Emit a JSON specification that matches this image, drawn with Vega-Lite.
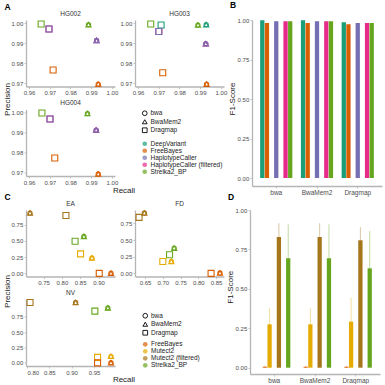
{
"$schema": "https://vega.github.io/schema/vega-lite/v6.json",
"padding": {"left": 3, "top": 1, "right": 2, "bottom": 0},
"config": {
  "font": "Liberation Sans",
  "view": {"stroke": null},
  "axis": {"domainColor": "#b5b5b5", "domainWidth": 1.3, "tickColor": "#b5b5b5", "tickSize": 2, "tickWidth": 0.8, "labelFontSize": 6, "labelColor": "#4d4d4d", "labelPadding": 1.2, "titleFontSize": 8, "titleFontWeight": "normal", "titleColor": "#1a1a1a", "grid": false},
  "title": {"fontSize": 6.5, "fontWeight": "normal", "color": "#333333", "offset": 1, "anchor": "middle"},
  "legend": {"padding": 0, "labelFontSize": 6.5, "labelColor": "#222222", "rowPadding": -0.5, "labelOffset": 2.5, "symbolStrokeWidth": 0.9, "symbolSize": 22, "titlePadding": 0}
},
"datasets": {
  "germ": [
    {"sample": "HG002", "aligner": "bwa", "caller": "Strelka2_BP", "recall": 0.9887, "precision": 0.9992},
    {"sample": "HG002", "aligner": "bwa", "caller": "HaplotypeCaller (filtered)", "recall": 0.9926, "precision": 0.9914},
    {"sample": "HG002", "aligner": "bwa", "caller": "HaplotypeCaller", "recall": 0.9926, "precision": 0.9914},
    {"sample": "HG002", "aligner": "bwa", "caller": "FreeBayes", "recall": 0.9934, "precision": 0.9697},
    {"sample": "HG002", "aligner": "BwaMem2", "caller": "Strelka2_BP", "recall": 0.9887, "precision": 0.9992},
    {"sample": "HG002", "aligner": "BwaMem2", "caller": "HaplotypeCaller (filtered)", "recall": 0.9926, "precision": 0.9914},
    {"sample": "HG002", "aligner": "BwaMem2", "caller": "HaplotypeCaller", "recall": 0.9926, "precision": 0.9914},
    {"sample": "HG002", "aligner": "BwaMem2", "caller": "FreeBayes", "recall": 0.9934, "precision": 0.9697},
    {"sample": "HG002", "aligner": "Dragmap", "caller": "Strelka2_BP", "recall": 0.9658, "precision": 0.9995},
    {"sample": "HG002", "aligner": "Dragmap", "caller": "HaplotypeCaller (filtered)", "recall": 0.9696, "precision": 0.997},
    {"sample": "HG002", "aligner": "Dragmap", "caller": "HaplotypeCaller", "recall": 0.9696, "precision": 0.997},
    {"sample": "HG002", "aligner": "Dragmap", "caller": "FreeBayes", "recall": 0.9716, "precision": 0.9767},
    {"sample": "HG003", "aligner": "bwa", "caller": "DeepVariant", "recall": 0.9929, "precision": 0.9992},
    {"sample": "HG003", "aligner": "bwa", "caller": "Strelka2_BP", "recall": 0.9889, "precision": 0.999},
    {"sample": "HG003", "aligner": "bwa", "caller": "HaplotypeCaller (filtered)", "recall": 0.9927, "precision": 0.9897},
    {"sample": "HG003", "aligner": "bwa", "caller": "HaplotypeCaller", "recall": 0.9927, "precision": 0.9897},
    {"sample": "HG003", "aligner": "bwa", "caller": "FreeBayes", "recall": 0.9931, "precision": 0.9697},
    {"sample": "HG003", "aligner": "BwaMem2", "caller": "DeepVariant", "recall": 0.9929, "precision": 0.9992},
    {"sample": "HG003", "aligner": "BwaMem2", "caller": "Strelka2_BP", "recall": 0.9889, "precision": 0.999},
    {"sample": "HG003", "aligner": "BwaMem2", "caller": "HaplotypeCaller (filtered)", "recall": 0.9927, "precision": 0.9897},
    {"sample": "HG003", "aligner": "BwaMem2", "caller": "HaplotypeCaller", "recall": 0.9927, "precision": 0.9897},
    {"sample": "HG003", "aligner": "BwaMem2", "caller": "FreeBayes", "recall": 0.9931, "precision": 0.9697},
    {"sample": "HG003", "aligner": "Dragmap", "caller": "DeepVariant", "recall": 0.9711, "precision": 0.999},
    {"sample": "HG003", "aligner": "Dragmap", "caller": "Strelka2_BP", "recall": 0.9661, "precision": 0.9995},
    {"sample": "HG003", "aligner": "Dragmap", "caller": "HaplotypeCaller (filtered)", "recall": 0.97, "precision": 0.9958},
    {"sample": "HG003", "aligner": "Dragmap", "caller": "HaplotypeCaller", "recall": 0.97, "precision": 0.9958},
    {"sample": "HG003", "aligner": "Dragmap", "caller": "FreeBayes", "recall": 0.9719, "precision": 0.9753},
    {"sample": "HG004", "aligner": "bwa", "caller": "Strelka2_BP", "recall": 0.9882, "precision": 0.9995},
    {"sample": "HG004", "aligner": "bwa", "caller": "HaplotypeCaller (filtered)", "recall": 0.9924, "precision": 0.9913},
    {"sample": "HG004", "aligner": "bwa", "caller": "HaplotypeCaller", "recall": 0.9924, "precision": 0.9913},
    {"sample": "HG004", "aligner": "bwa", "caller": "FreeBayes", "recall": 0.9934, "precision": 0.9695},
    {"sample": "HG004", "aligner": "BwaMem2", "caller": "Strelka2_BP", "recall": 0.9882, "precision": 0.9995},
    {"sample": "HG004", "aligner": "BwaMem2", "caller": "HaplotypeCaller (filtered)", "recall": 0.9924, "precision": 0.9913},
    {"sample": "HG004", "aligner": "BwaMem2", "caller": "HaplotypeCaller", "recall": 0.9924, "precision": 0.9913},
    {"sample": "HG004", "aligner": "BwaMem2", "caller": "FreeBayes", "recall": 0.9934, "precision": 0.9695},
    {"sample": "HG004", "aligner": "Dragmap", "caller": "Strelka2_BP", "recall": 0.9662, "precision": 0.9998},
    {"sample": "HG004", "aligner": "Dragmap", "caller": "HaplotypeCaller (filtered)", "recall": 0.9701, "precision": 0.9968},
    {"sample": "HG004", "aligner": "Dragmap", "caller": "HaplotypeCaller", "recall": 0.9701, "precision": 0.9968},
    {"sample": "HG004", "aligner": "Dragmap", "caller": "FreeBayes", "recall": 0.9724, "precision": 0.9774}
  ],
  "som": [
    {"sample": "EA", "aligner": "bwa", "caller": "Mutect2 (filtered)", "recall": 0.713, "precision": 0.93},
    {"sample": "EA", "aligner": "bwa", "caller": "Strelka2_BP", "recall": 0.86, "precision": 0.571},
    {"sample": "EA", "aligner": "bwa", "caller": "Mutect2", "recall": 0.882, "precision": 0.24},
    {"sample": "EA", "aligner": "bwa", "caller": "FreeBayes", "recall": 0.934, "precision": 0.005},
    {"sample": "EA", "aligner": "BwaMem2", "caller": "Mutect2 (filtered)", "recall": 0.713, "precision": 0.93},
    {"sample": "EA", "aligner": "BwaMem2", "caller": "Strelka2_BP", "recall": 0.86, "precision": 0.571},
    {"sample": "EA", "aligner": "BwaMem2", "caller": "Mutect2", "recall": 0.882, "precision": 0.24},
    {"sample": "EA", "aligner": "BwaMem2", "caller": "FreeBayes", "recall": 0.934, "precision": 0.005},
    {"sample": "EA", "aligner": "Dragmap", "caller": "Mutect2 (filtered)", "recall": 0.811, "precision": 0.893},
    {"sample": "EA", "aligner": "Dragmap", "caller": "Strelka2_BP", "recall": 0.836, "precision": 0.495},
    {"sample": "EA", "aligner": "Dragmap", "caller": "Mutect2", "recall": 0.851, "precision": 0.302},
    {"sample": "EA", "aligner": "Dragmap", "caller": "FreeBayes", "recall": 0.902, "precision": 0.002},
    {"sample": "FD", "aligner": "bwa", "caller": "Mutect2 (filtered)", "recall": 0.648, "precision": 0.905},
    {"sample": "FD", "aligner": "bwa", "caller": "Strelka2_BP", "recall": 0.732, "precision": 0.38},
    {"sample": "FD", "aligner": "bwa", "caller": "Mutect2", "recall": 0.724, "precision": 0.18},
    {"sample": "FD", "aligner": "bwa", "caller": "FreeBayes", "recall": 0.861, "precision": 0.008},
    {"sample": "FD", "aligner": "BwaMem2", "caller": "Mutect2 (filtered)", "recall": 0.648, "precision": 0.905},
    {"sample": "FD", "aligner": "BwaMem2", "caller": "Strelka2_BP", "recall": 0.732, "precision": 0.38},
    {"sample": "FD", "aligner": "BwaMem2", "caller": "Mutect2", "recall": 0.724, "precision": 0.18},
    {"sample": "FD", "aligner": "BwaMem2", "caller": "FreeBayes", "recall": 0.861, "precision": 0.008},
    {"sample": "FD", "aligner": "Dragmap", "caller": "Mutect2 (filtered)", "recall": 0.633, "precision": 0.84},
    {"sample": "FD", "aligner": "Dragmap", "caller": "Strelka2_BP", "recall": 0.719, "precision": 0.28},
    {"sample": "FD", "aligner": "Dragmap", "caller": "Mutect2", "recall": 0.7, "precision": 0.18},
    {"sample": "FD", "aligner": "Dragmap", "caller": "FreeBayes", "recall": 0.836, "precision": 0.002},
    {"sample": "NV", "aligner": "bwa", "caller": "Mutect2 (filtered)", "recall": 0.909, "precision": 0.985},
    {"sample": "NV", "aligner": "bwa", "caller": "Strelka2_BP", "recall": 0.981, "precision": 0.898},
    {"sample": "NV", "aligner": "bwa", "caller": "Mutect2", "recall": 0.988, "precision": 0.109},
    {"sample": "NV", "aligner": "bwa", "caller": "FreeBayes", "recall": 0.988, "precision": 0.005},
    {"sample": "NV", "aligner": "BwaMem2", "caller": "Mutect2 (filtered)", "recall": 0.909, "precision": 0.985},
    {"sample": "NV", "aligner": "BwaMem2", "caller": "Strelka2_BP", "recall": 0.981, "precision": 0.898},
    {"sample": "NV", "aligner": "BwaMem2", "caller": "Mutect2", "recall": 0.988, "precision": 0.109},
    {"sample": "NV", "aligner": "BwaMem2", "caller": "FreeBayes", "recall": 0.988, "precision": 0.005},
    {"sample": "NV", "aligner": "Dragmap", "caller": "Mutect2 (filtered)", "recall": 0.807, "precision": 0.985},
    {"sample": "NV", "aligner": "Dragmap", "caller": "Strelka2_BP", "recall": 0.952, "precision": 0.844},
    {"sample": "NV", "aligner": "Dragmap", "caller": "Mutect2", "recall": 0.958, "precision": 0.092},
    {"sample": "NV", "aligner": "Dragmap", "caller": "FreeBayes", "recall": 0.958, "precision": 0.002}
  ],
  "f1g": [
    {"aligner": "bwa", "caller": "DeepVariant", "f1": 0.998},
    {"aligner": "bwa", "caller": "FreeBayes", "f1": 0.981},
    {"aligner": "bwa", "caller": "HaplotypeCaller", "f1": 0.992},
    {"aligner": "bwa", "caller": "HaplotypeCaller (filtered)", "f1": 0.992},
    {"aligner": "bwa", "caller": "Strelka2_BP", "f1": 0.992},
    {"aligner": "BwaMem2", "caller": "DeepVariant", "f1": 0.998},
    {"aligner": "BwaMem2", "caller": "FreeBayes", "f1": 0.981},
    {"aligner": "BwaMem2", "caller": "HaplotypeCaller", "f1": 0.992},
    {"aligner": "BwaMem2", "caller": "HaplotypeCaller (filtered)", "f1": 0.992},
    {"aligner": "BwaMem2", "caller": "Strelka2_BP", "f1": 0.992},
    {"aligner": "Dragmap", "caller": "DeepVariant", "f1": 0.985},
    {"aligner": "Dragmap", "caller": "FreeBayes", "f1": 0.973},
    {"aligner": "Dragmap", "caller": "HaplotypeCaller", "f1": 0.981},
    {"aligner": "Dragmap", "caller": "HaplotypeCaller (filtered)", "f1": 0.981},
    {"aligner": "Dragmap", "caller": "Strelka2_BP", "f1": 0.981}
  ],
  "f1s": [
    {"aligner": "bwa", "caller": "FreeBayes", "f1": 0.006, "lo": 0.0, "hi": 0.012},
    {"aligner": "bwa", "caller": "Mutect2", "f1": 0.275, "lo": 0.173, "hi": 0.377},
    {"aligner": "bwa", "caller": "Mutect2 (filtered)", "f1": 0.829, "lo": 0.742, "hi": 0.916},
    {"aligner": "bwa", "caller": "Strelka2_BP", "f1": 0.694, "lo": 0.479, "hi": 0.909},
    {"aligner": "BwaMem2", "caller": "FreeBayes", "f1": 0.006, "lo": 0.0, "hi": 0.012},
    {"aligner": "BwaMem2", "caller": "Mutect2", "f1": 0.275, "lo": 0.173, "hi": 0.377},
    {"aligner": "BwaMem2", "caller": "Mutect2 (filtered)", "f1": 0.829, "lo": 0.742, "hi": 0.916},
    {"aligner": "BwaMem2", "caller": "Strelka2_BP", "f1": 0.694, "lo": 0.479, "hi": 0.909},
    {"aligner": "Dragmap", "caller": "FreeBayes", "f1": 0.006, "lo": 0.0, "hi": 0.012},
    {"aligner": "Dragmap", "caller": "Mutect2", "f1": 0.292, "lo": 0.14, "hi": 0.444},
    {"aligner": "Dragmap", "caller": "Mutect2 (filtered)", "f1": 0.808, "lo": 0.724, "hi": 0.892},
    {"aligner": "Dragmap", "caller": "Strelka2_BP", "f1": 0.63, "lo": 0.393, "hi": 0.867}
  ]
},
"align": "each",
"spacing": -4,
"resolve": {"scale": {"color": "independent", "stroke": "independent", "fill": "independent", "shape": "independent", "size": "independent"}},
"vconcat": [
{
  "align": "each",
  "spacing": 1,
  "resolve": {"scale": {"color": "independent", "stroke": "independent", "fill": "independent", "shape": "independent", "size": "independent"}},
  "hconcat": [
  {
    "title": {"text": "A", "fontSize": 8.5, "fontWeight": "bold", "color": "#000000", "anchor": "start", "frame": "group", "dx": -21.5, "offset": 0},
    "columns": 2,
    "bounds": "flush",
    "spacing": {"row": 22.5, "column": 20},
    "resolve": {"scale": {"color": "independent", "stroke": "independent", "fill": "independent", "shape": "independent", "size": "independent"}},
    "concat": [
      {
        "width": 89, "height": 66.5,
        "title": {"text": "HG002"},
        "data": {"name": "germ"},
        "transform": [{"filter": "datum.sample === 'HG002'"}],
        "mark": {"type": "point", "filled": false, "strokeWidth": 1.1, "opacity": 1},
        "encoding": {
          "x": {"field": "recall", "type": "quantitative", "scale": {"domain": [0.9585, 1.0015], "nice": false, "zero": false}, "axis": {"values": [0.96, 0.97, 0.98, 0.99, 1.0], "format": ".2f", "title": null}},
          "y": {"field": "precision", "type": "quantitative", "scale": {"domain": [0.9685, 1.0015], "nice": false, "zero": false}, "axis": {"values": [0.97, 0.98, 0.99, 1.0], "format": ".2f", "title": "Precision", "titleX": -18.5, "titleY": 79, "titleAngle": 270, "titleAlign": "center", "titleBaseline": "middle"}},
          "stroke": {"field": "caller", "type": "nominal", "scale": {"domain": ["DeepVariant", "FreeBayes", "HaplotypeCaller", "HaplotypeCaller (filtered)", "Strelka2_BP"], "range": ["#1B9E77", "#D95F02", "#7570B3", "#E7298A", "#66A61E"]}, "legend": null},
          "shape": {"field": "aligner", "type": "nominal", "scale": {"domain": ["bwa", "BwaMem2", "Dragmap"], "range": ["circle", "triangle-up", "square"]}, "legend": null},
          "size": {"field": "aligner", "type": "nominal", "scale": {"domain": ["bwa", "BwaMem2", "Dragmap"], "range": [18, 36, 24]}, "legend": null}
        }
      },
      {
        "width": 89, "height": 66.5,
        "title": {"text": "HG003"},
        "data": {"name": "germ"},
        "transform": [{"filter": "datum.sample === 'HG003'"}],
        "mark": {"type": "point", "filled": false, "strokeWidth": 1.1, "opacity": 1},
        "encoding": {
          "x": {"field": "recall", "type": "quantitative", "scale": {"domain": [0.9585, 1.0015], "nice": false, "zero": false}, "axis": {"values": [0.96, 0.97, 0.98, 0.99, 1.0], "format": ".2f", "title": null}},
          "y": {"field": "precision", "type": "quantitative", "scale": {"domain": [0.9685, 1.0015], "nice": false, "zero": false}, "axis": {"values": [0.97, 0.98, 0.99, 1.0], "format": ".2f", "title": null}},
          "stroke": {"field": "caller", "type": "nominal", "scale": {"domain": ["DeepVariant", "FreeBayes", "HaplotypeCaller", "HaplotypeCaller (filtered)", "Strelka2_BP"], "range": ["#1B9E77", "#D95F02", "#7570B3", "#E7298A", "#66A61E"]}, "legend": null},
          "shape": {"field": "aligner", "type": "nominal", "scale": {"domain": ["bwa", "BwaMem2", "Dragmap"], "range": ["circle", "triangle-up", "square"]}, "legend": null},
          "size": {"field": "aligner", "type": "nominal", "scale": {"domain": ["bwa", "BwaMem2", "Dragmap"], "range": [18, 36, 24]}, "legend": null}
        }
      },
      {
        "width": 89, "height": 66.5,
        "title": {"text": "HG004"},
        "data": {"name": "germ"},
        "transform": [{"filter": "datum.sample === 'HG004'"}],
        "encoding": {
          "x": {"field": "recall", "type": "quantitative", "scale": {"domain": [0.9585, 1.0015], "nice": false, "zero": false}, "axis": {"values": [0.96, 0.97, 0.98, 0.99, 1.0], "format": ".2f", "title": "Recall", "titleX": 97.5, "titleY": 14.5, "titleAlign": "center", "titleBaseline": "middle"}},
          "y": {"field": "precision", "type": "quantitative", "scale": {"domain": [0.9685, 1.0015], "nice": false, "zero": false}, "axis": {"values": [0.97, 0.98, 0.99, 1.0], "format": ".2f", "title": null}}
        },
        "layer": [
          {
            "mark": {"type": "point", "filled": false, "strokeWidth": 1.1, "opacity": 1},
            "encoding": {
              "stroke": {"field": "caller", "type": "nominal", "sort": ["DeepVariant", "FreeBayes", "HaplotypeCaller", "HaplotypeCaller (filtered)", "Strelka2_BP"], "scale": {"range": ["#D95F02", "#7570B3", "#E7298A", "#66A61E"]}, "legend": null},
              "shape": {"field": "aligner", "type": "nominal", "scale": {"domain": ["bwa", "BwaMem2", "Dragmap"], "range": ["circle", "triangle-up", "square"]}, "legend": {"orient": "none", "legendX": 115.5, "legendY": 0.5, "title": null, "symbolStrokeColor": "#000000"}},
              "size": {"field": "aligner", "type": "nominal", "sort": ["bwa", "BwaMem2", "Dragmap"], "scale": {"range": [18, 36, 24]}, "legend": null}
            }
          },
          {
            "transform": [{"filter": "false"}],
            "mark": {"type": "point", "filled": true, "shape": "circle"},
            "encoding": {
              "fill": {"field": "caller", "type": "nominal", "scale": {"domain": ["DeepVariant", "FreeBayes", "HaplotypeCaller", "HaplotypeCaller (filtered)", "Strelka2_BP"], "range": ["#1B9E77", "#D95F02", "#7570B3", "#E7298A", "#66A61E"]}, "legend": {"orient": "none", "legendX": 115.5, "legendY": 31, "title": null}}
            }
          }
        ]
      }
    ]
  },
  {
    "width": 130, "height": 166,
    "title": {"text": "B", "fontSize": 8.5, "fontWeight": "bold", "color": "#000000", "anchor": "start", "frame": "group", "dx": -22, "offset": 7.5},
    "data": {"name": "f1g"},
    "mark": {"type": "bar"},
    "encoding": {
      "x": {"field": "aligner", "type": "nominal", "sort": ["bwa", "BwaMem2", "Dragmap"], "scale": {"paddingInner": 0.21, "paddingOuter": 0.2}, "axis": {"title": null, "labelAngle": 0, "labelFontSize": 6.5}},
      "xOffset": {"field": "caller", "type": "nominal", "sort": ["DeepVariant", "FreeBayes", "HaplotypeCaller", "HaplotypeCaller (filtered)", "Strelka2_BP"], "scale": {"paddingInner": 0.08}},
      "y": {"field": "f1", "type": "quantitative", "scale": {"domain": [-0.05, 1.0], "nice": false, "zero": false}, "axis": {"values": [0, 0.25, 0.5, 0.75, 1.0], "format": ".2f", "title": "F1-Score", "titleX": -20, "titleY": 78.5, "titleAngle": 270, "titleAlign": "center", "titleBaseline": "middle"}},
      "y2": {"datum": 0},
      "color": {"field": "caller", "type": "nominal", "scale": {"domain": ["DeepVariant", "FreeBayes", "HaplotypeCaller", "HaplotypeCaller (filtered)", "Strelka2_BP"], "range": ["#1B9E77", "#D95F02", "#7570B3", "#E7298A", "#66A61E"]}, "legend": null}
    }
  }
  ]
},
{
  "align": "each",
  "spacing": 1,
  "resolve": {"scale": {"color": "independent", "stroke": "independent", "fill": "independent", "shape": "independent", "size": "independent"}},
  "hconcat": [
  {
    "title": {"text": "C", "fontSize": 8.5, "fontWeight": "bold", "color": "#000000", "anchor": "start", "frame": "group", "dx": -21.5, "offset": 0},
    "columns": 2,
    "bounds": "flush",
    "spacing": {"row": 22.5, "column": 20},
    "resolve": {"scale": {"color": "independent", "stroke": "independent", "fill": "independent", "shape": "independent", "size": "independent"}},
    "concat": [
      {
        "width": 89, "height": 66.5,
        "title": {"text": "EA"},
        "data": {"name": "som"},
        "transform": [{"filter": "datum.sample === 'EA'"}],
        "mark": {"type": "point", "filled": false, "strokeWidth": 1.1, "opacity": 1},
        "encoding": {
          "x": {"field": "recall", "type": "quantitative", "scale": {"domain": [0.702, 0.945], "nice": false, "zero": false}, "axis": {"values": [0.75, 0.8, 0.85, 0.9], "format": ".2f", "title": null}},
          "y": {"field": "precision", "type": "quantitative", "scale": {"domain": [-0.0465, 0.9765], "nice": false, "zero": false}, "axis": {"values": [0, 0.25, 0.5, 0.75], "format": ".2f", "title": "Precision", "titleX": -18.5, "titleY": 81, "titleAngle": 270, "titleAlign": "center", "titleBaseline": "middle"}},
          "stroke": {"field": "caller", "type": "nominal", "scale": {"domain": ["FreeBayes", "Mutect2", "Mutect2 (filtered)", "Strelka2_BP"], "range": ["#D95F02", "#E6AB02", "#A6761D", "#66A61E"]}, "legend": null},
          "shape": {"field": "aligner", "type": "nominal", "scale": {"domain": ["bwa", "BwaMem2", "Dragmap"], "range": ["circle", "triangle-up", "square"]}, "legend": null},
          "size": {"field": "aligner", "type": "nominal", "scale": {"domain": ["bwa", "BwaMem2", "Dragmap"], "range": [18, 36, 24]}, "legend": null}
        }
      },
      {
        "width": 89, "height": 66.5,
        "title": {"text": "FD"},
        "data": {"name": "som"},
        "transform": [{"filter": "datum.sample === 'FD'"}],
        "mark": {"type": "point", "filled": false, "strokeWidth": 1.1, "opacity": 1},
        "encoding": {
          "x": {"field": "recall", "type": "quantitative", "scale": {"domain": [0.6216, 0.8724], "nice": false, "zero": false}, "axis": {"values": [0.65, 0.7, 0.75, 0.8, 0.85], "format": ".2f", "title": null}},
          "y": {"field": "precision", "type": "quantitative", "scale": {"domain": [-0.045, 0.95], "nice": false, "zero": false}, "axis": {"values": [0, 0.25, 0.5, 0.75], "format": ".2f", "title": null}},
          "stroke": {"field": "caller", "type": "nominal", "scale": {"domain": ["FreeBayes", "Mutect2", "Mutect2 (filtered)", "Strelka2_BP"], "range": ["#D95F02", "#E6AB02", "#A6761D", "#66A61E"]}, "legend": null},
          "shape": {"field": "aligner", "type": "nominal", "scale": {"domain": ["bwa", "BwaMem2", "Dragmap"], "range": ["circle", "triangle-up", "square"]}, "legend": null},
          "size": {"field": "aligner", "type": "nominal", "scale": {"domain": ["bwa", "BwaMem2", "Dragmap"], "range": [18, 36, 24]}, "legend": null}
        }
      },
      {
        "width": 89, "height": 66.5,
        "title": {"text": "NV"},
        "data": {"name": "som"},
        "transform": [{"filter": "datum.sample === 'NV'"}],
        "encoding": {
          "x": {"field": "recall", "type": "quantitative", "scale": {"domain": [0.798, 0.997], "nice": false, "zero": false}, "axis": {"values": [0.8, 0.85, 0.9, 0.95], "format": ".2f", "title": "Recall", "titleX": 97.5, "titleY": 13.5, "titleAlign": "center", "titleBaseline": "middle"}},
          "y": {"field": "precision", "type": "quantitative", "scale": {"domain": [-0.049, 1.034], "nice": false, "zero": false}, "axis": {"values": [0, 0.25, 0.5, 0.75], "format": ".2f", "title": null}}
        },
        "layer": [
          {
            "mark": {"type": "point", "filled": false, "strokeWidth": 1.1, "opacity": 1},
            "encoding": {
              "stroke": {"field": "caller", "type": "nominal", "sort": ["FreeBayes", "Mutect2", "Mutect2 (filtered)", "Strelka2_BP"], "scale": {"range": ["#D95F02", "#E6AB02", "#A6761D", "#66A61E"]}, "legend": null},
              "shape": {"field": "aligner", "type": "nominal", "scale": {"domain": ["bwa", "BwaMem2", "Dragmap"], "range": ["circle", "triangle-up", "square"]}, "legend": {"orient": "none", "legendX": 116, "legendY": 13, "title": null, "symbolStrokeColor": "#000000"}},
              "size": {"field": "aligner", "type": "nominal", "sort": ["bwa", "BwaMem2", "Dragmap"], "scale": {"range": [18, 36, 24]}, "legend": null}
            }
          },
          {
            "transform": [{"filter": "false"}],
            "mark": {"type": "point", "filled": true, "shape": "circle"},
            "encoding": {
              "fill": {"field": "caller", "type": "nominal", "scale": {"domain": ["FreeBayes", "Mutect2", "Mutect2 (filtered)", "Strelka2_BP"], "range": ["#D95F02", "#E6AB02", "#A6761D", "#66A61E"]}, "legend": {"orient": "none", "legendX": 116, "legendY": 41.6, "title": null}}
            }
          }
        ]
      }
    ]
  },
  {
    "width": 130, "height": 164,
    "title": {"text": "D", "fontSize": 8.5, "fontWeight": "bold", "color": "#000000", "anchor": "start", "frame": "group", "dx": -22, "offset": 5.5},
    "data": {"name": "f1s"},
    "encoding": {
      "x": {"field": "aligner", "type": "nominal", "sort": ["bwa", "BwaMem2", "Dragmap"], "scale": {"paddingInner": 0.21, "paddingOuter": 0.2}, "axis": {"title": null, "labelAngle": 0, "labelFontSize": 6.5}},
      "xOffset": {"field": "caller", "type": "nominal", "sort": ["FreeBayes", "Mutect2", "Mutect2 (filtered)", "Strelka2_BP"], "scale": {"paddingInner": 0.08}},
      "color": {"field": "caller", "type": "nominal", "scale": {"domain": ["FreeBayes", "Mutect2", "Mutect2 (filtered)", "Strelka2_BP"], "range": ["#D95F02", "#E6AB02", "#A6761D", "#66A61E"]}, "legend": null}
    },
    "layer": [
      {
        "mark": {"type": "rule", "strokeWidth": 1, "opacity": 0.4},
        "encoding": {
          "y": {"field": "lo", "type": "quantitative", "scale": {"domain": [-0.04, 1.0], "nice": false, "zero": false}, "axis": {"values": [0, 0.25, 0.5, 0.75, 1.0], "format": ".2f", "title": "F1-Score", "titleX": -20, "titleY": 76.7, "titleAngle": 270, "titleAlign": "center", "titleBaseline": "middle"}},
          "y2": {"field": "hi"}
        }
      },
      {
        "mark": {"type": "bar"},
        "encoding": {
          "y": {"field": "f1", "type": "quantitative"},
          "y2": {"datum": 0}
        }
      }
    ]
  }
  ]
}
]
}
